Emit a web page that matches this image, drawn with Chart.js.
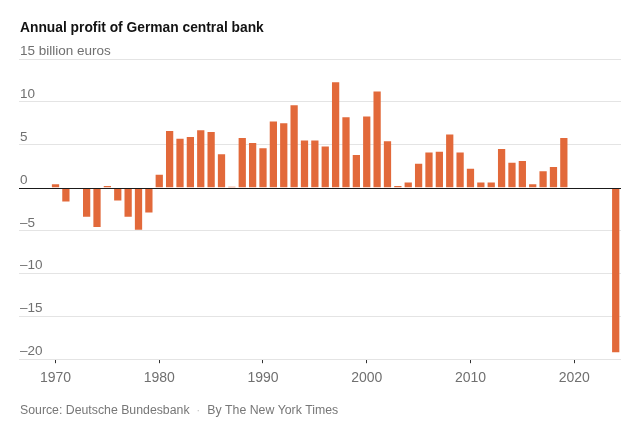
<!DOCTYPE html>
<html>
<head>
<meta charset="utf-8">
<script src="https://cdn.jsdelivr.net/npm/chart.js@4.4.1/dist/chart.umd.min.js"></script>
<style>
  html, body { margin: 0; padding: 0; background: #fff; }
  #wrap { width: 633px; height: 423px; position: relative; }
</style>
</head>
<body>
<div id="wrap"><canvas id="myChart"></canvas></div>
<script>
const years = [
  1970, 1971, 1972, 1973, 1974, 1975, 1976, 1977, 1978, 1979,
  1980, 1981, 1982, 1983, 1984, 1985, 1986, 1987, 1988, 1989,
  1990, 1991, 1992, 1993, 1994, 1995, 1996, 1997, 1998, 1999,
  2000, 2001, 2002, 2003, 2004, 2005, 2006, 2007, 2008, 2009,
  2010, 2011, 2012, 2013, 2014, 2015, 2016, 2017, 2018, 2019,
  2020, 2021, 2022, 2023, 2024
];
// billion euros
const profits = [
  0.4, -1.6, 0, -3.4, -4.6, 0.2, -1.5, -3.4, -4.9, -2.9,
  1.5, 6.6, 5.7, 5.9, 6.7, 6.5, 3.9, 0.1, 5.8, 5.2,
  4.6, 7.7, 7.5, 9.6, 5.5, 5.5, 4.8, 12.3, 8.2, 3.8,
  8.3, 11.2, 5.4, 0.2, 0.6, 2.8, 4.1, 4.2, 6.2, 4.1,
  2.2, 0.6, 0.6, 4.5, 2.9, 3.1, 0.4, 1.9, 2.4, 5.8,
  0, 0, 0, 0, -19.2
];
const xTickYears = [1970, 1980, 1990, 2000, 2010, 2020];

const title = "Annual profit of German central bank";
const sourceText = "Source: Deutsche Bundesbank";
const creditText = "By The New York Times";

const labelFont = '13.5px "Liberation Sans", Arial, sans-serif';

const nytPlugin = {
  id: "nytText",
  afterDatasetsDraw: (chart) => {
    const { ctx, chartArea, scales } = chart;
    const y0 = Math.round(scales.y.getPixelForValue(0)) + 0.5;
    ctx.save();
    ctx.strokeStyle = "#1a1a1a";
    ctx.lineWidth = 1;
    ctx.beginPath();
    ctx.moveTo(chartArea.left, y0);
    ctx.lineTo(chartArea.right, y0);
    ctx.stroke();
    ctx.restore();
  },
  afterDraw: (chart) => {
    const { ctx, scales } = chart;
    ctx.save();
    // y labels sit just above their gridline
    ctx.font = labelFont;
    ctx.fillStyle = "#707070";
    ctx.textAlign = "left";
    ctx.textBaseline = "alphabetic";
    scales.y.ticks.forEach((t) => {
      const py = scales.y.getPixelForValue(t.value);
      ctx.fillText(t.label, 20, py - 4);
    });

    ctx.font = 'bold 13.8px "Liberation Sans", Arial, sans-serif';
    ctx.fillStyle = "#121212";
    ctx.fillText(title, 20, 32);

    ctx.font = '12.3px "Liberation Sans", Arial, sans-serif';
    ctx.fillStyle = "#777";
    let x = 20;
    ctx.fillText(sourceText, x, 414);
    x += ctx.measureText(sourceText).width;
    ctx.fillStyle = "#c8c8c8";
    ctx.fillText("  \u00b7  ", x, 414);
    x += ctx.measureText("  \u00b7  ").width;
    ctx.fillStyle = "#777";
    ctx.fillText(creditText, x, 414);
    ctx.restore();
  },
};

const ctx = document.getElementById("myChart").getContext("2d");

const myChart = new Chart(ctx, {
  type: "bar",
  data: {
    datasets: [
      {
        label: "Profit",
        data: years.map((yr, i) => ({ x: yr, y: profits[i] })),
        backgroundColor: "#e2693a",
        borderWidth: 0,
        barPercentage: 0.7,
        categoryPercentage: 1,
      },
    ],
  },
  options: {
    responsive: true,
    maintainAspectRatio: false,
    animation: false,
    layout: {
      padding: { top: 59, left: 19, right: 12, bottom: 29 },
    },
    plugins: {
      legend: { display: false },
      tooltip: { enabled: false },
    },
    scales: {
      x: {
        type: "linear",
        offset: false,
        min: 1966.48,
        max: 2024.51,
        afterBuildTicks: (scale) => {
          scale.ticks = xTickYears.map((v) => ({ value: v }));
        },
        border: { display: false },
        grid: {
          offset: false,
          drawOnChartArea: false,
          drawTicks: true,
          tickLength: 4,
          tickColor: "#333",
        },
        ticks: {
          padding: 7,
          color: "#707070",
          font: { family: '"Liberation Sans", Arial, sans-serif', size: 14 },
          callback: (v) => String(v),
          maxRotation: 0,
        },
      },
      y: {
        min: -20,
        max: 15,
        border: { display: false },
        grid: {
          drawTicks: false,
          color: (c) => (c.tick && c.tick.value === 0 ? "rgba(0,0,0,0)" : "#e4e4e4"),
        },
        ticks: {
          display: false,
          stepSize: 5,
          callback: (v) => (v === 15 ? "15 billion euros" : v < 0 ? "\u2013" + Math.abs(v) : String(v)),
        },
      },
    },
  },
  plugins: [nytPlugin],
});
</script>
</body>
</html>
